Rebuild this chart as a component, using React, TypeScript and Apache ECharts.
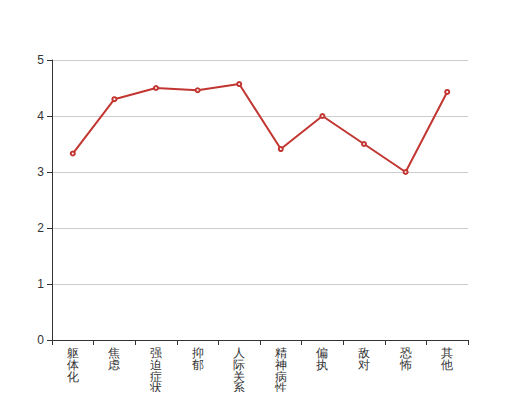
import React, { useEffect, useRef } from "react";
import * as echarts from "echarts";

const categories = ["躯体化", "焦虑", "强迫症状", "抑郁", "人际关系敏感", "精神病性", "偏执", "敌对", "恐怖", "其他"];
const values = [3.33, 4.3, 4.5, 4.46, 4.57, 3.41, 4.0, 3.5, 3.0, 4.43];
const yTicks = { min: 0, max: 5, interval: 1 };

export default function App() {
  const ref = useRef<HTMLDivElement>(null);
  useEffect(() => {
    if (!ref.current) return;
    const chart = echarts.init(ref.current, undefined, { renderer: "svg" });
    chart.setOption({
      animation: false,
      textStyle: { fontFamily: "sans-serif" },
      grid: { left: 52, right: 52, top: 60, bottom: 60, containLabel: false, outerBoundsMode: "none" },
      xAxis: {
        type: "category",
        data: categories,
        boundaryGap: true,
        axisLine: { lineStyle: { color: "#333" } },
        axisTick: { show: true, alignWithLabel: false, lineStyle: { color: "#333" } },
        axisLabel: {
          interval: 0,
          color: "#333",
          fontSize: 12,
          lineHeight: 11.8,
          margin: 7,
          formatter: (v: string) => v.split("").join("\n"),
        },
      },
      yAxis: {
        type: "value",
        min: yTicks.min,
        max: yTicks.max,
        interval: yTicks.interval,
        axisLine: { show: true, lineStyle: { color: "#333" } },
        axisTick: { show: true, lineStyle: { color: "#333" } },
        axisLabel: { color: "#333", fontSize: 12 },
        splitLine: { lineStyle: { color: "#ccc" } },
      },
      series: [
        {
          type: "line",
          data: values,
          symbol: "emptyCircle",
          symbolSize: 4,
          itemStyle: { color: "#c23531" },
          lineStyle: { color: "#c23531", width: 2 },
        },
      ],
    });
    return () => chart.dispose();
  }, []);
  return <div ref={ref} style={{ width: 520, height: 400, margin: -8 }} />;
}
